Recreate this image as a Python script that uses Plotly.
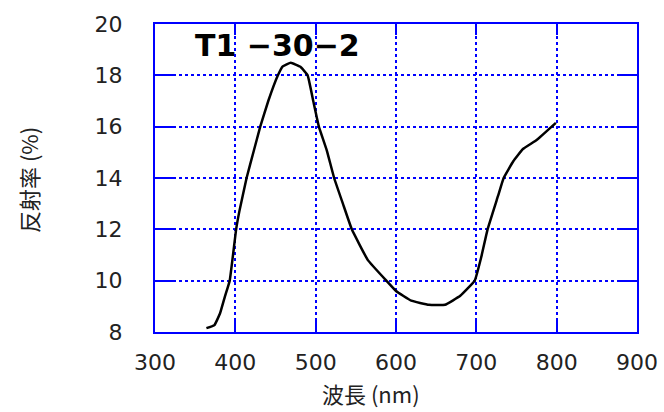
import plotly.graph_objects as go

wavelength = [364, 374, 381, 387, 393, 401, 405, 414, 423, 431, 441, 453, 459,
              469, 481, 490, 497, 504, 514, 523, 535, 545, 565, 588, 600, 619,
              641, 661, 680, 698, 706, 714, 727, 734, 746, 758, 775, 799]
reflectance = [8.15, 8.27, 8.73, 9.38, 10.0, 12.0, 12.7, 14.0, 15.06, 16.0, 17.0,
               18.0, 18.35, 18.49, 18.33, 18.0, 17.0, 16.0, 15.06, 14.0, 12.9,
               12.0, 10.8, 10.0, 9.6, 9.22, 9.06, 9.06, 9.41, 10.0, 10.9, 12.0,
               13.3, 14.0, 14.65, 15.13, 15.48, 16.15]

x_ticks = [300, 400, 500, 600, 700, 800, 900]
y_ticks = [8, 10, 12, 14, 16, 18, 20]

sample_label = "T1 −30−2"
x_title = "波長 (nm)"
y_title = "反射率 (%)"

BLUE = "#0000ff"

fig = go.Figure()
fig.add_trace(go.Scatter(
    x=wavelength, y=reflectance, mode="lines",
    line=dict(color="black", width=2.5, shape="spline", smoothing=0.3),
    showlegend=False, hoverinfo="skip",
))

axis_common = dict(
    showline=True, linecolor=BLUE, linewidth=2, mirror="allticks",
    ticks="inside", tickcolor=BLUE, tickwidth=2,
    showgrid=True, gridcolor=BLUE, gridwidth=1.5, griddash="dot",
    zeroline=False, automargin=False,
    tickfont=dict(family="DejaVu Sans", size=22, color="#222222"),
)

fig.update_xaxes(range=[300, 900], tickvals=x_ticks, ticklen=11,
                 ticklabelstandoff=10, **axis_common)
fig.update_yaxes(range=[8, 20], tickvals=y_ticks, ticklen=20,
                 ticklabelstandoff=26, **axis_common)

fig.add_annotation(text=sample_label, xref="paper", yref="paper",
                   x=(193 - 155) / 482, y=(332 - 45) / 308,
                   xanchor="left", yanchor="middle", showarrow=False,
                   font=dict(family="DejaVu Sans", size=30, color="black",
                             weight="bold"))
fig.add_annotation(text=x_title, xref="paper", yref="paper",
                   x=(371 - 155) / 482, y=(332 - 393) / 308,
                   xanchor="center", yanchor="middle", showarrow=False,
                   borderpad=0,
                   font=dict(family="Noto Sans CJK JP", size=22, color="#222222"))
fig.add_annotation(text=y_title, xref="paper", yref="paper",
                   x=(28 - 155) / 482, y=(332 - 180) / 308, textangle=-90,
                   xanchor="center", yanchor="middle", showarrow=False,
                   font=dict(family="Noto Sans CJK JP", size=22, color="#222222"))

fig.update_layout(
    width=664, height=412,
    margin=dict(l=155, r=27, t=24, b=80),
    paper_bgcolor="white", plot_bgcolor="white",
)

fig.write_html("out.html",
               config={"displayModeBar": False},
               post_script="document.body.style.margin='0';"
                           "document.body.style.overflow='hidden';")
